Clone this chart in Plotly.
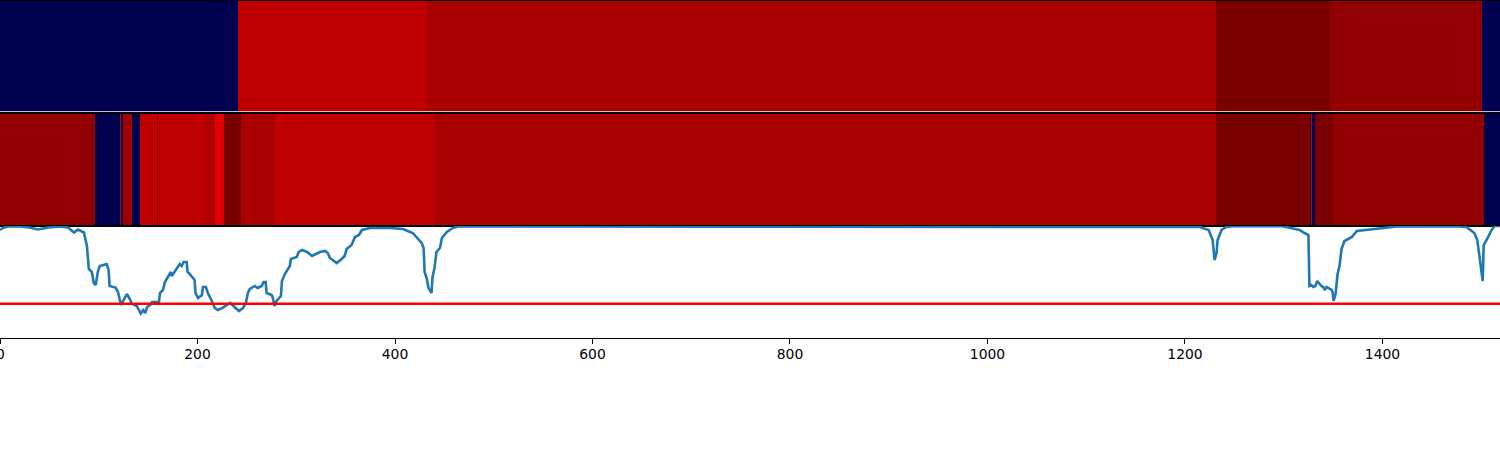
import plotly.graph_objects as go

top_edges = [0, 241, 431.3, 1231, 1346.6, 1500.5, 1519]
top_vals = [0.0, 0.867, 0.907, 0.996, 0.95, 0.0]

mid_edges = [0, 96, 121.5, 122.5, 124.2, 133.3, 141.7, 159, 160, 206.5, 217.7, 226.8, 243.7, 278.4,
             439.4, 1231, 1326.3, 1327.3, 1328.3, 1331.4, 1350.6, 1502.5, 1519]
mid_vals = [0.95, 0.0, 0.867, 0.0, 0.926, 0.0, 0.867, 0.996, 0.867, 0.896, 0.807, 0.996, 0.907, 0.867,
            0.907, 0.996, 0.0, 0.867, 0.0, 0.99, 0.95, 0.0]

signal_x = [0, 3, 8, 20, 30, 38.5, 48.6, 61, 69, 75, 79, 85, 88, 90, 93, 95, 97, 99, 101, 105, 108, 110, 111,
            117, 119.5, 122.5, 124.5, 128.5, 131.5, 133.5, 135.5, 138.5, 142.5, 145, 147, 149, 152, 154, 161,
            162, 165, 167, 170, 173, 174, 182, 184, 186, 189, 190, 193, 197, 198, 200.5, 204.5, 205.5, 208.5,
            210.5, 214.5, 217.5, 220.5, 225, 233, 236, 239, 242, 246, 249, 251, 253, 258, 261, 265, 267, 269,
            270, 275, 276, 278, 280, 284.5, 285.5, 288.5, 290.5, 293.5, 294.5, 300.5, 302.5, 306, 311, 316,
            324, 329, 332, 334, 337, 341, 346, 349, 351, 356, 359.5, 363.5, 366.5, 374.5, 395, 408, 418, 427,
            429, 430, 432, 434, 437, 438, 440, 442, 445.5, 447.5, 452.5, 458.6, 463.7, 500, 545, 600, 680, 730,
            1100, 1215, 1224, 1228, 1230, 1232, 1233, 1237, 1242, 1248, 1299, 1309, 1316, 1321, 1325, 1326,
            1328, 1330, 1332, 1334, 1338, 1340, 1341.5, 1343.5, 1348.5, 1349.5, 1350.5, 1352.5, 1354.5, 1356.5,
            1358.5, 1361.5, 1369, 1374, 1384, 1389, 1397, 1417, 1478, 1485, 1493, 1496, 1501.5, 1502.5, 1506.5,
            1510.5, 1513.6, 1518.7]
signal_y = [108, 110, 111.5, 111.5, 110.5, 108.5, 110.5, 111.5, 110.5, 105.5, 108.5, 105.5, 92, 69, 66, 55, 53,
            66, 72, 73, 74, 68, 52, 50.5, 46, 33, 37, 44, 39, 34, 33.5, 32, 24.5, 28, 25, 31, 33, 36, 36,
            45, 48, 56, 61, 66, 62, 74, 72, 76, 76, 66, 63, 58, 45, 40, 43, 51, 51,
            45, 37, 30, 28, 30, 35, 32, 30, 27, 30, 35, 45, 49, 52, 50, 52, 56, 56,
            45, 43, 41, 32, 37, 42, 57, 64, 67, 72, 79, 81, 86, 88, 86, 82,
            86, 87, 85, 80, 78, 75, 79, 82, 89, 93, 101, 103, 108, 110, 110, 109, 105, 95,
            90, 66, 60, 50, 45, 61, 70, 86, 90, 100, 106, 110, 111.5, 111.5, 111, 111.7, 111, 111.7,
            111.7, 111, 108, 98, 78, 85, 98, 108, 111, 111.8, 111.8, 110, 108, 105, 103, 52,
            53, 51, 52, 57, 52, 51, 48, 51, 48, 46, 37, 44, 64, 72,
            89, 97, 101, 107, 108, 109, 110, 111.8, 111.5, 111, 105, 98, 57, 93, 100,
            108, 112, 112]
threshold = 34.3
threshold_x = [0, 1519]
tick_values = [0, 200, 400, 600, 800, 1000, 1200, 1400]

scale = [[0, "#000050"], [0.25, "#0000ff"], [0.5, "#ffffff"], [0.75, "#ff0000"], [1, "#780000"]]

fig = go.Figure()
fig.add_trace(go.Heatmap(x=top_edges, y=[0, 1], z=[top_vals], zmin=0, zmax=1, colorscale=scale,
                         showscale=False, hoverinfo="skip", xaxis="x", yaxis="y"))
fig.add_trace(go.Heatmap(x=mid_edges, y=[0, 1], z=[mid_vals], zmin=0, zmax=1, colorscale=scale,
                         showscale=False, hoverinfo="skip", xaxis="x2", yaxis="y2"))
fig.add_trace(go.Scatter(x=signal_x, y=signal_y, mode="lines", line=dict(color="#1f77b4", width=2.6),
                         showlegend=False, xaxis="x3", yaxis="y3"))
fig.add_trace(go.Scatter(x=threshold_x, y=[threshold, threshold], mode="lines", line=dict(color="#ff0000", width=2.4),
                         showlegend=False, xaxis="x3", yaxis="y3"))

H = 450.0
def dom(p_top, p_bot):
    return [1 - p_bot / H, 1 - p_top / H]

common_x = dict(range=[0, 1519], showgrid=False, zeroline=False, showline=True, linecolor="black", linewidth=1, mirror=True)
common_y = dict(showgrid=False, zeroline=False, showline=True, linecolor="black", linewidth=1, mirror=True, showticklabels=False, ticks="")

fig.update_layout(
    width=1500, height=450, autosize=False,
    margin=dict(l=0, r=0, t=0, b=0),
    paper_bgcolor="white", plot_bgcolor="white",
    font=dict(family="DejaVu Sans", size=13.9, color="black"),
    showlegend=False,
    xaxis=dict(domain=[0, 1], anchor="y", showticklabels=False, ticks="", **common_x),
    yaxis=dict(domain=dom(0.5, 111.5), range=[0, 1], anchor="x", **common_y),
    xaxis2=dict(domain=[0, 1], anchor="y2", showticklabels=False, ticks="", **common_x),
    yaxis2=dict(domain=dom(113.5, 225.5), range=[0, 1], anchor="x2", **common_y),
    xaxis3=dict(domain=[0, 1], anchor="y3", tickmode="array", tickvals=tick_values,
                ticktext=[str(v) for v in tick_values], ticks="outside", ticklen=5, tickwidth=1,
                tickcolor="black", ticklabelstandoff=-2, **common_x),
    yaxis3=dict(domain=dom(226, 338), range=[0, 112], anchor="x3", **common_y),
    annotations=[dict(text=str(tick_values[0]), x=tick_values[0], y=0, xref="x3", yref="y3 domain",
                      yshift=-16, xanchor="center", yanchor="middle", showarrow=False,
                      font=dict(family="DejaVu Sans", size=13.9, color="black"))],
)

fig.write_html("out.html", config={"displayModeBar": False},
               post_script="document.body.style.margin='0';")
